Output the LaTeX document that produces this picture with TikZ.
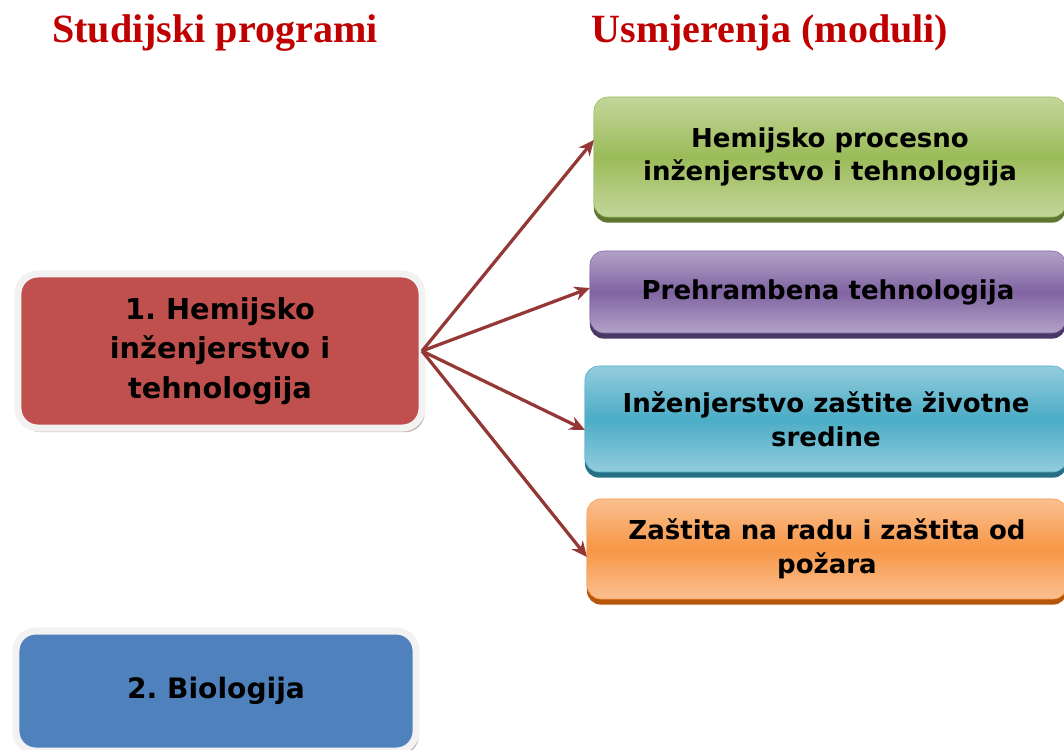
\documentclass[tikz,border=0pt]{standalone}
\usepackage{fontspec}
\setmainfont{DejaVu Sans}
\newfontfamily\naslovfont{Liberation Serif}
\usepackage{tikz}
\usetikzlibrary{calc,arrows.meta,shadows}
\frenchspacing
\definecolor{naslovc}{HTML}{C00000}
\definecolor{strelicac}{HTML}{953735}
\definecolor{crvenac}{HTML}{C0504D}
\definecolor{plavac}{HTML}{4F81BD}
\definecolor{zelenac}{HTML}{9BBB59}
\definecolor{zelenasv}{HTML}{C3D69B}
\definecolor{zelenatm}{HTML}{5F7530}
\definecolor{ljubc}{HTML}{8064A2}
\definecolor{ljubsv}{HTML}{B3A2C7}
\definecolor{ljubtm}{HTML}{4A3866}
\definecolor{tirkc}{HTML}{4BACC6}
\definecolor{tirksv}{HTML}{93CDDD}
\definecolor{tirktm}{HTML}{276F82}
\definecolor{narc}{HTML}{F79646}
\definecolor{narsv}{HTML}{FAC090}
\definecolor{nartm}{HTML}{B6560A}
\tikzset{
	naslov/.style={text=naslovc,font=\naslovfont\bfseries\fontsize{28.5}{32}\selectfont},
	program/.style={rectangle,rounded corners=14pt,fill=#1,draw=black!5,line width=5pt,outer sep=0pt,
		align=center,font=\bfseries\fontsize{20.5}{28}\selectfont,
		drop shadow={shadow xshift=2pt,shadow yshift=-3pt,fill=black!45!crvenac,opacity=0.35}},
	modul/.style n args={3}{rectangle,rounded corners=10pt,draw=#1,thin,top color=#2,bottom color=#2,middle color=#1,
		align=center,font=\bfseries\fontsize{18.5}{24}\selectfont,outer sep=0pt,
		drop shadow={shadow xshift=0pt,shadow yshift=-4pt,fill=#3,opacity=1}},
	veza/.style={draw=strelicac,line width=2.3pt,arrows={-Stealth[length=11pt,width=10pt]}}
	}

\begin{document}
\begin{tikzpicture}[x=0.025cm,y=-0.025cm]
	\useasboundingbox (0,0) rectangle (1064,749);
	\clip (0,0) rectangle (1064,749);
	\node[naslov] (sp) at (215,33) {Studijski programi};
	\node[naslov] (us) at (770,33) {Usmjerenja (moduli)};
	\node[program=crvenac,minimum width=10.1cm,minimum height=3.85cm] (hemija) at (220,351)
		{1. Hemijsko\\inženjerstvo i\\tehnologija};
	\node[program=plavac,minimum width=10cm,minimum height=3cm,font=\bfseries\fontsize{20}{24}\selectfont] (biologija) at (216,691)
		{2. Biologija};
	\node[modul={zelenac}{zelenasv}{zelenatm},minimum width=11.8cm,minimum height=3cm] (hpi) at (830,157)
		{Hemijsko procesno\\inženjerstvo i tehnologija};
	\node[modul={ljubc}{ljubsv}{ljubtm},minimum width=11.9cm,minimum height=2.05cm] (pt) at (828,292)
		{Prehrambena tehnologija};
	\node[modul={tirkc}{tirksv}{tirktm},minimum width=12.05cm,minimum height=2.65cm] (zs) at (826,419)
		{Inženjerstvo zaštite životne\\sredine};
	\node[modul={narc}{narsv}{nartm},minimum width=12cm,minimum height=2.5cm] (zr) at (827,549)
		{Zaštita na radu i zaštita od\\požara};
	\draw[veza] (hemija.east) -- ($(hpi.west)+(0,-17)$);
	\draw[veza] (hemija.east) -- ($(pt.west)+(0,-4)$);
	\draw[veza] (hemija.east) -- ($(zs.west)+(0,11)$);
	\draw[veza] (hemija.east) -- ($(zr.west)+(0,8)$);
\end{tikzpicture}
\end{document}
